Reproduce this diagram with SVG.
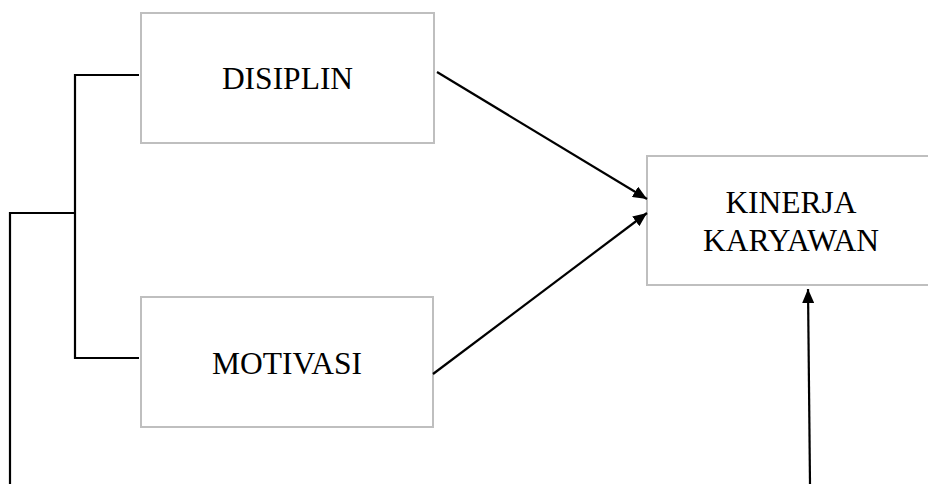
<svg xmlns="http://www.w3.org/2000/svg" width="928" height="484" viewBox="0 0 928 484">
<style>
.box{fill:#fff;stroke:#bfbfbf;stroke-width:2}
.lbl{font-family:"Liberation Serif","Times New Roman",serif;font-size:31.5px;fill:#000;text-anchor:middle}
.ln{fill:none;stroke:#000;stroke-width:2.2}
</style>
<defs>
<marker id="ah" viewBox="0 0 14 12" refX="14" refY="6" markerWidth="14" markerHeight="12" markerUnits="userSpaceOnUse" orient="auto">
<path d="M0,0 L14,6 L0,12 Z" fill="#000"/>
</marker>
</defs>
<rect width="928" height="484" fill="#fff"/>
<g id="disiplin">
<rect class="box" x="141" y="13" width="293" height="130"/>
<text class="lbl" x="287.5" y="89">DISIPLIN</text>
</g>
<g id="motivasi">
<rect class="box" x="141" y="297" width="292" height="130"/>
<text class="lbl" x="287" y="374">MOTIVASI</text>
</g>
<g id="kinerja">
<rect class="box" x="647" y="156" width="282" height="129"/>
<text class="lbl" x="791" y="213">KINERJA</text>
<text class="lbl" x="791" y="251">KARYAWAN</text>
</g>
<g id="connectors">
<polyline class="ln" points="139,75 75,75 75,358 139,358"/>
<polyline class="ln" points="75,213 10,213 10,484"/>
<line class="ln" x1="437" y1="72" x2="647" y2="199" marker-end="url(#ah)"/>
<line class="ln" x1="433" y1="374" x2="647" y2="213" marker-end="url(#ah)"/>
<line class="ln" x1="810" y1="484" x2="808" y2="289" marker-end="url(#ah)"/>
</g>
</svg>
